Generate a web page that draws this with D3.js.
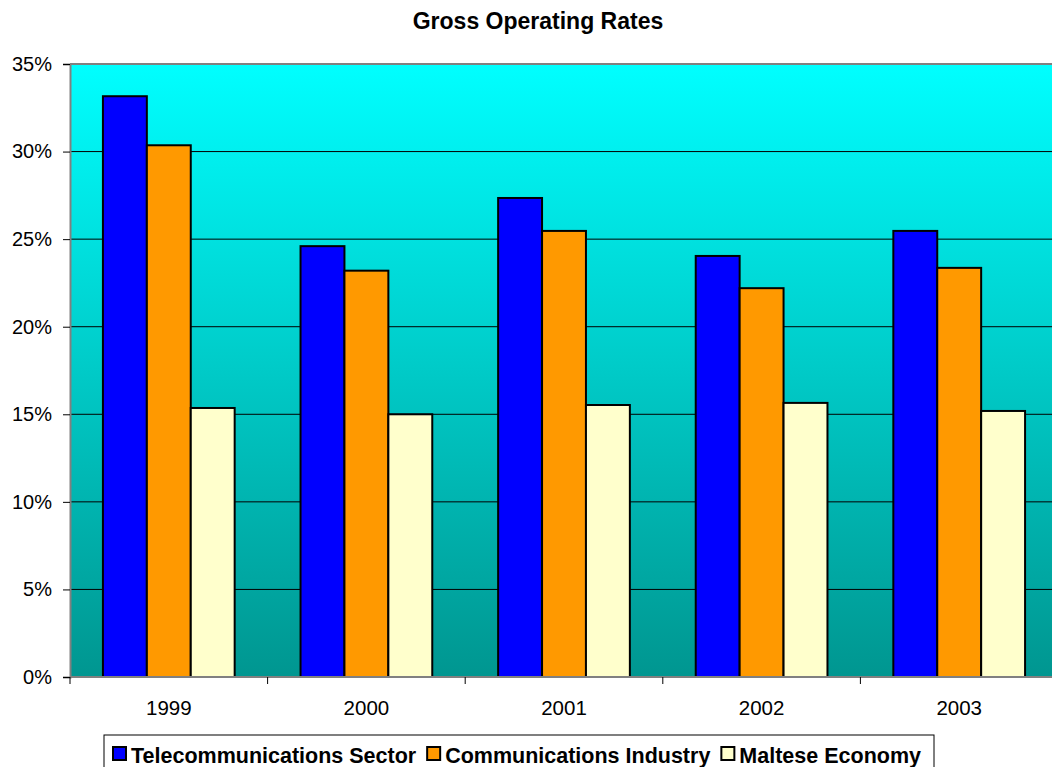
<!DOCTYPE html>
<html><head><meta charset="utf-8">
<script src="https://cdn.jsdelivr.net/npm/d3@7"></script>
<style>body{margin:0;background:#fff;} svg{display:block;font-family:"Liberation Sans",Arial,sans-serif;}</style>
</head><body>
<svg id="chart" width="1052" height="767"></svg>
<script>
const categories = ["1999","2000","2001","2002","2003"];
const seriesNames = ["Telecommunications Sector","Communications Industry","Maltese Economy"];
const telecom = [0.3316, 0.2460, 0.2735, 0.2404, 0.2547];
const commInd = [0.3036, 0.2320, 0.2547, 0.2220, 0.2336];
const maltese = [0.1536, 0.1500, 0.1553, 0.1565, 0.1519];
const yTicks = [0, 0.05, 0.10, 0.15, 0.20, 0.25, 0.30, 0.35];
const colors = ["#0000FF","#FF9900","#FFFFCC"];

const seriesValues = [telecom, commInd, maltese];
const svg = d3.select("#chart");
const pL = 70, pR = 1058, pT = 64, pB = 677;

const x0 = d3.scaleBand().domain(categories).range([pL, pR]).padding(0);
const x1 = d3.scaleBand().domain(seriesNames).range([0, x0.bandwidth()]).paddingInner(0).paddingOuter(0.75);
const y = d3.scaleLinear().domain([0, 0.35]).range([pB, pT]);

const defs = svg.append("defs");
const grad = defs.append("linearGradient").attr("id","bg").attr("x1",0).attr("y1",0).attr("x2",0).attr("y2",1);
grad.append("stop").attr("offset","0%").attr("stop-color","#00FFFF");
grad.append("stop").attr("offset","100%").attr("stop-color","#009690");

svg.append("rect").attr("x",pL).attr("y",pT).attr("width",pR-pL).attr("height",pB-pT).attr("fill","url(#bg)");

// gridlines
svg.append("g").selectAll("line").data(yTicks.filter(d=>d>0 && d<0.35)).join("line")
  .attr("x1",pL).attr("x2",pR).attr("y1",d=>y(d)).attr("y2",d=>y(d))
  .attr("stroke","#000").attr("stroke-width",1);
// top border
svg.append("line").attr("x1",pL).attr("x2",pR).attr("y1",pT).attr("y2",pT).attr("stroke","#808080").attr("stroke-width",2);

// bars
const g = svg.append("g");
categories.forEach((c,i)=>{
  seriesNames.forEach((s,j)=>{
    g.append("rect")
      .attr("x", x0(c)+x1(s)).attr("y", y(seriesValues[j][i]))
      .attr("width", x1.bandwidth()).attr("height", y(0)-y(seriesValues[j][i]))
      .attr("fill", colors[j]).attr("stroke","#000").attr("stroke-width",2);
  });
});

// y axis
const yAxis = d3.axisLeft(y).tickValues(yTicks).tickFormat(d3.format(".0%")).tickSize(7).tickPadding(11);
const ya = svg.append("g").attr("transform",`translate(${pL},0)`).call(yAxis);
ya.select(".domain").attr("stroke","#808080").attr("stroke-width",2);
ya.selectAll(".tick line").attr("stroke","#000");
ya.selectAll("text").attr("font-size",20).attr("fill","#000").attr("font-family","Liberation Sans, Arial, sans-serif");

// x axis
const xAxis = d3.axisBottom(x0).tickSize(0).tickPadding(0);
const xa = svg.append("g").attr("transform",`translate(0,${pB})`).call(xAxis);
xa.select(".domain").remove();
xa.selectAll("text").attr("font-size",20.5).attr("fill","#000").attr("dy",null).attr("y",38).attr("font-family","Liberation Sans, Arial, sans-serif");
svg.append("line").attr("x1",pL).attr("x2",pR).attr("y1",pB).attr("y2",pB).attr("stroke","#808080").attr("stroke-width",2);
// category boundary ticks
svg.append("g").selectAll("line").data(categories).join("line")
  .attr("x1",d=>x0(d)).attr("x2",d=>x0(d)).attr("y1",pB).attr("y2",pB+7).attr("stroke","#000");

// title
svg.append("text").attr("x",538).attr("y",29).attr("text-anchor","middle")
  .attr("font-size",23).attr("font-weight","bold").text("Gross Operating Rates");

// legend
const lg = svg.append("g");
const lbox = lg.append("rect").attr("x",104).attr("y",735).attr("height",40).attr("fill","#fff").attr("stroke","#000").attr("stroke-width",1);
let cx = 113;
seriesNames.forEach((s,j)=>{
  lg.append("rect").attr("x",cx).attr("y",747).attr("width",13).attr("height",13).attr("fill",colors[j]).attr("stroke","#000").attr("stroke-width",2);
  const t = lg.append("text").attr("x",cx+18).attr("y",763).attr("font-size",21.5).attr("font-weight","bold").text(s);
  cx += 18 + t.node().getComputedTextLength() + 11;
});
lbox.attr("width", 934 - 104);
</script>
</body></html>
